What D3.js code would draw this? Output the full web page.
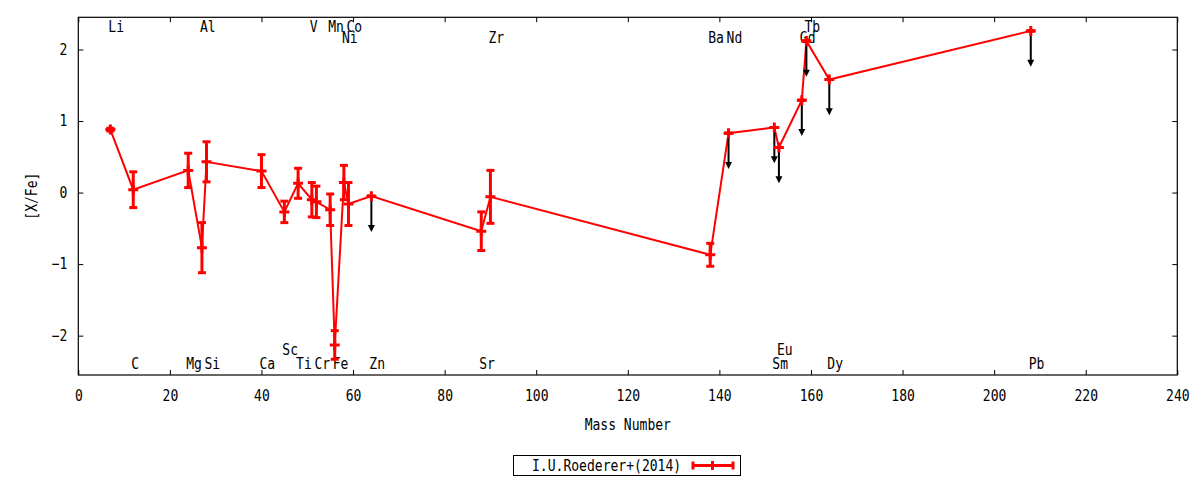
<!DOCTYPE html>
<html>
<head>
<meta charset="utf-8">
<script src="https://cdn.jsdelivr.net/npm/d3@7"></script>
<style>
    body { margin: 0; background: #fff; }
    text { font-family: "DejaVu Sans Mono", monospace; font-size: 15px; fill: #000; }
</style>
</head>
<body>
<div id="chart"></div>
<script>
// Abundance pattern, [X/Fe] against mass number
const elements = ['Li', 'C', 'Mg', 'Al', 'Si', 'Ca', 'Sc', 'Ti', 'V', 'Cr', 'Mn', 'Fe', 'Ni', 'Co',
    'Zn', 'Sr', 'Zr', 'Ba', 'Nd', 'Sm', 'Eu', 'Gd', 'Tb', 'Dy', 'Pb'];
const massNumber = [7, 12, 24, 27, 28, 40, 45, 48, 51, 52, 55, 56, 58, 59,
    64, 88, 90, 138, 142, 152, 153, 158, 159, 164, 208];
const xfe = [0.88, 0.04, 0.31, -0.77, 0.43, 0.30, -0.27, 0.13, -0.10, -0.13, -0.24, -2.13, 0.14, -0.16,
    -0.05, -0.54, -0.06, -0.87, 0.83, 0.91, 0.63, 1.29, 2.12, 1.58, 2.26];
const xfeErr = [0.02, 0.25, 0.24, 0.35, 0.28, 0.23, 0.15, 0.21, 0.24, 0.22, 0.22, 0.20, 0.24, 0.30,
    0, 0.27, 0.37, 0.16, 0, 0, 0, 0, 0, 0, 0];
const upperLimit = [0, 0, 0, 0, 0, 0, 0, 0, 0, 0, 0, 0, 0, 0,
    1, 0, 0, 0, 1, 1, 1, 1, 1, 1, 1];

// element name labels: which element and the [X/Fe] height it sits at
const labelNames = ['Li', 'Al', 'V', 'Mn', 'Co', 'Tb',
    'Ni', 'Zr', 'Ba', 'Nd', 'Gd',
    'C', 'Mg', 'Si', 'Ca', 'Ti', 'Cr', 'Fe', 'Zn', 'Sr', 'Sm', 'Dy', 'Pb',
    'Sc', 'Eu'];
const labelY = [2.31, 2.31, 2.31, 2.31, 2.31, 2.31,
    2.16, 2.16, 2.16, 2.16, 2.16,
    -2.39, -2.39, -2.39, -2.39, -2.39, -2.39, -2.39, -2.39, -2.39, -2.39, -2.39, -2.39,
    -2.2, -2.2];

const xTicks = [0, 20, 40, 60, 80, 100, 120, 140, 160, 180, 200, 220, 240];
const yTicks = [-2, -1, 0, 1, 2];
const seriesName = 'I.U.Roederer+(2014)';
const limitLength = 0.5;

const W = 1200, H = 480;
const margin = { left: 78.3, right: 22.7, top: 17.3, bottom: 105 };
const CW = 7.85; // gnuplot char advance

const x = d3.scaleLinear().domain([0, 240]).range([margin.left, W - margin.right]);
const y = d3.scaleLinear().domain([-2.55, 2.45]).range([H - margin.bottom, margin.top]);

const svg = d3.select('#chart').append('svg')
    .attr('width', W)
    .attr('height', H);

// squeeze text to gnuplot's narrow glyphs
function squeeze(sel) {
    sel.attr('textLength', function () { return this.textContent.length * CW; })
        .attr('lengthAdjust', 'spacingAndGlyphs');
}

// Axes, ticks pointing inward on all four sides
const gx = svg.append('g')
    .attr('transform', `translate(0,${y.range()[0]})`)
    .call(d3.axisBottom(x).tickValues(xTicks).tickSize(-5).tickPadding(15).tickFormat(d3.format('d')));
const gy = svg.append('g')
    .attr('transform', `translate(${margin.left},0)`)
    .call(d3.axisLeft(y).tickValues(yTicks).tickSize(-5).tickPadding(11).tickFormat(d3.format('d')));
svg.append('g')
    .attr('transform', `translate(0,${margin.top})`)
    .call(d3.axisTop(x).tickValues(xTicks).tickSize(-5).tickFormat(''));
svg.append('g')
    .attr('transform', `translate(${W - margin.right},0)`)
    .call(d3.axisRight(y).tickValues(yTicks).tickSize(-5).tickFormat(''));

svg.selectAll('.domain').remove();
svg.selectAll('.tick line').attr('stroke', '#000').attr('stroke-width', 1);
svg.selectAll('.tick text')
    .style('font-family', '"DejaVu Sans Mono", monospace')
    .style('font-size', '15px')
    .call(squeeze);

svg.append('rect')
    .attr('x', margin.left)
    .attr('y', margin.top)
    .attr('width', x.range()[1] - margin.left)
    .attr('height', y.range()[0] - margin.top)
    .attr('fill', 'none')
    .attr('stroke', '#000')
    .attr('stroke-width', 1.2);

// Axis titles
svg.append('text')
    .attr('x', (x.range()[0] + x.range()[1]) / 2)
    .attr('y', 425)
    .attr('text-anchor', 'middle')
    .attr('dominant-baseline', 'central')
    .text('Mass Number')
    .call(squeeze);

svg.append('text')
    .attr('transform', `translate(32,${(y.range()[0] + y.range()[1]) / 2}) rotate(-90)`)
    .attr('text-anchor', 'middle')
    .attr('dominant-baseline', 'central')
    .text('[X/Fe]')
    .call(squeeze);

// Element labels
const labelData = labelNames.map((n, i) => ({ name: n, mass: massNumber[elements.indexOf(n)], v: labelY[i] }));
svg.append('g').selectAll('text').data(labelData)
    .enter()
    .append('text')
    .attr('x', d => x(d.mass) - 2)
    .attr('y', d => y(d.v))
    .attr('dominant-baseline', 'central')
    .text(d => d.name)
    .call(squeeze);

const data = elements.map((el, i) => ({
    el, m: massNumber[i], v: xfe[i], e: xfeErr[i], ul: upperLimit[i]
}));

// Connecting line
svg.append('path')
    .datum(data)
    .attr('fill', 'none')
    .attr('stroke', '#ff0000')
    .attr('stroke-width', 2)
    .attr('d', d3.line().x(d => x(d.m)).y(d => y(d.v)));

// Upper limit arrows
const arrows = svg.append('g').selectAll('g').data(data.filter(d => d.ul))
    .enter()
    .append('g');
arrows.append('line')
    .attr('x1', d => x(d.m))
    .attr('x2', d => x(d.m))
    .attr('y1', d => y(d.v))
    .attr('y2', d => y(d.v - limitLength) - 4)
    .attr('stroke', '#000')
    .attr('stroke-width', 2);
arrows.append('path')
    .attr('d', d => {
        const px = x(d.m), py = y(d.v - limitLength);
        return `M${px - 3.5},${py - 7}L${px + 3.5},${py - 7}L${px},${py}Z`;
    })
    .attr('fill', '#000');

// Error bars and plus markers
const pts = svg.append('g').selectAll('g').data(data)
    .enter()
    .append('g')
    .attr('stroke', '#ff0000')
    .attr('stroke-width', 3);
pts.append('line')
    .attr('x1', d => x(d.m)).attr('x2', d => x(d.m))
    .attr('y1', d => y(d.v + d.e)).attr('y2', d => y(d.v - d.e));
pts.append('line')
    .attr('x1', d => x(d.m) - 4).attr('x2', d => x(d.m) + 4)
    .attr('y1', d => y(d.v + d.e)).attr('y2', d => y(d.v + d.e));
pts.append('line')
    .attr('x1', d => x(d.m) - 4).attr('x2', d => x(d.m) + 4)
    .attr('y1', d => y(d.v - d.e)).attr('y2', d => y(d.v - d.e));
pts.append('path')
    .attr('d', d => {
        const px = x(d.m), py = y(d.v);
        return `M${px - 5},${py}H${px + 5}M${px},${py - 5}V${py + 5}`;
    });

// Legend
const legend = svg.append('g');
legend.append('rect')
    .attr('x', 513.5).attr('y', 455.5)
    .attr('width', 227).attr('height', 20)
    .attr('fill', '#fff')
    .attr('stroke', '#000')
    .attr('stroke-width', 1);
legend.append('text')
    .attr('x', 532)
    .attr('y', 465.5)
    .attr('dominant-baseline', 'central')
    .text(seriesName)
    .call(squeeze);
const lg = legend.append('g').attr('stroke', '#ff0000').attr('stroke-width', 3);
lg.append('line').attr('x1', 692).attr('x2', 734).attr('y1', 465.5).attr('y2', 465.5);
lg.append('line').attr('x1', 693).attr('x2', 693).attr('y1', 461.5).attr('y2', 469.5);
lg.append('line').attr('x1', 733).attr('x2', 733).attr('y1', 461.5).attr('y2', 469.5);
lg.append('line').attr('x1', 712.5).attr('x2', 712.5).attr('y1', 461).attr('y2', 470);
</script>
</body>
</html>
